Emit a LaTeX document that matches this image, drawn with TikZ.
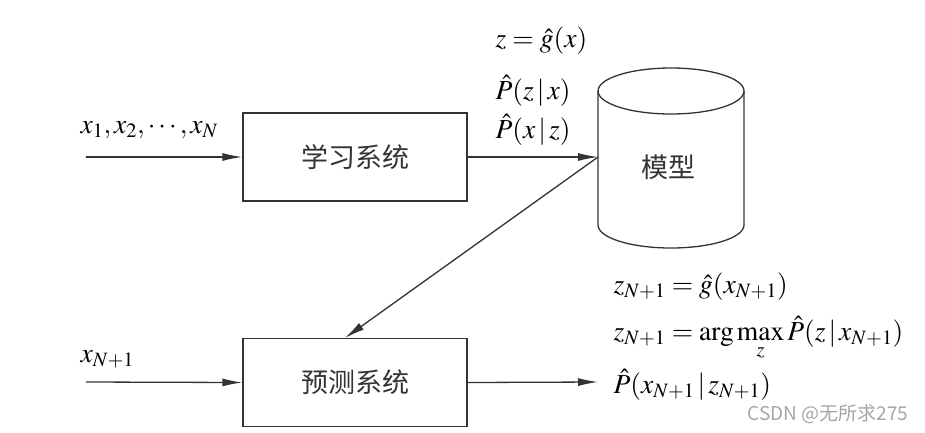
\documentclass[tikz,border=0pt]{standalone}
\usepackage{mathptmx}
\usepackage{fontspec}
\newfontfamily\cjk{Noto Sans CJK SC}
\usetikzlibrary{arrows.meta}
\begin{document}
\begin{tikzpicture}[x=1pt,y=-1pt,
  line width=1.3pt,
  lines/.style={draw=black!80},
  sysbox/.style={lines, draw, minimum width=224pt, minimum height=88pt, inner sep=0pt, font=\cjk\fontsize{27}{32}\selectfont, text=black!80},
  arr/.style={lines, -{Latex[length=20pt,width=8pt]}},
  lbl/.style={anchor=base west, inner sep=0pt, font=\fontsize{27.5}{32}\selectfont},
  cjklbl/.style={inner sep=0pt, font=\cjk\fontsize{27}{32}\selectfont, text=black!80}
]
\useasboundingbox (0,0) rectangle (925,432);
\fill[white] (0,0) rectangle (925,432);

% boxes
\node[sysbox] (learn) at (355,157) {学习系统};
\node[sysbox] (pred) at (355,382.5) {预测系统};

% cylinder
\draw[lines] (671,91) ellipse[x radius=73,y radius=23];
\draw[lines] (598,91) -- (598,225)
  arc[start angle=180,end angle=0,x radius=73,y radius=23] -- (744,91);
\node[cjklbl] (model) at (668,167) {模型};

% coordinates
\coordinate (in1) at (86,157);
\coordinate (in2) at (86,382);
\coordinate (cylL) at (598,157);
\coordinate (predtop) at (345,338);
\coordinate (out) at (598,382);

% connectors
\draw[arr] (in1) -- (learn.west);
\draw[arr] (learn.east) -- (cylL);
\draw[arr] (cylL) -- (predtop);
\draw[arr] (in2) -- (pred.west);
\draw[arr] (pred.east) -- (out);

% labels
\node[lbl] (lx) at (80,133) {$x_1,x_2,\cdots,x_N$};
\node[lbl] (lxn) at (80,362) {$x_{N+1}$};
\node[lbl] (l1) at (495,47) {$z=\hat{g}(x)$};
\node[lbl] (l2) at (495,99) {$\hat{P}(z\,|\,x)$};
\node[lbl] (l3) at (495,138) {$\hat{P}(x\,|\,z)$};
\node[lbl] (r1) at (613,293) {$z_{N+1}=\hat{g}(x_{N+1})$};
\node[lbl] (r2) at (613,340) {$z_{N+1}=\arg\max\limits_z \hat{P}(z\,|\,x_{N+1})$};
\node[lbl] (r3) at (613,393) {$\hat{P}(x_{N+1}\,|\,z_{N+1})$};

% watermark
\node[anchor=base west, inner sep=0pt, font=\cjk\fontsize{19}{22}\selectfont, text=black!35] (wm) at (747,420) {CSDN @无所求275};
\end{tikzpicture}
\end{document}
